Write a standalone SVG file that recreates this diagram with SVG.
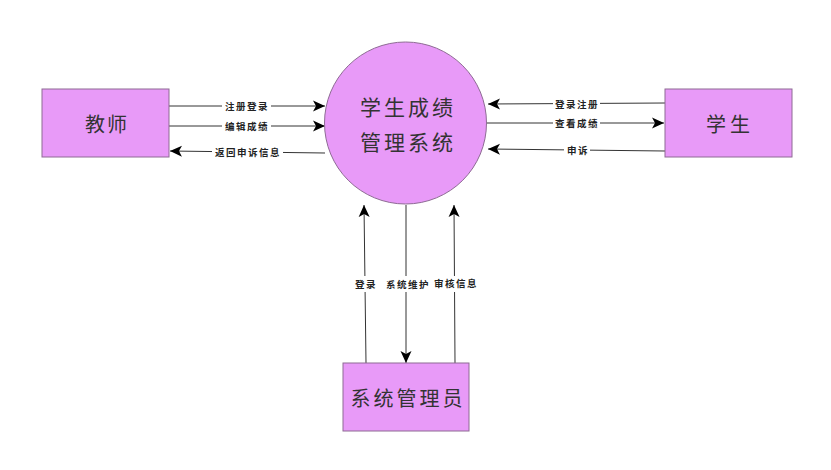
<svg xmlns="http://www.w3.org/2000/svg" width="831" height="470" viewBox="0 0 831 470">
<style>
.node{fill:#E89AF8;stroke:#8E6B94;stroke-width:1}
.ntext{font-family:"Noto Sans CJK SC","Liberation Sans",sans-serif;fill:#333;text-anchor:middle;dominant-baseline:central}
.edge{stroke:#333;stroke-width:1;fill:none;marker-end:url(#arr)}
.lbl{font-family:"Noto Sans CJK SC","Liberation Sans",sans-serif;font-size:9.5px;font-weight:bold;fill:#222;text-anchor:middle;dominant-baseline:central;letter-spacing:1.5px}
.bg{fill:#fff}
</style>
<defs>
<marker id="arr" viewBox="0 0 12 12" refX="12" refY="6" markerWidth="12" markerHeight="12" markerUnits="userSpaceOnUse" orient="auto">
<path d="M0,0.5 L12,6 L0,11.5 L3,6 Z" fill="#000"/>
</marker>
</defs>
<rect width="831" height="470" fill="#fff"/>
<g id="connectors">
<line class="edge" x1="169" y1="106" x2="325" y2="106"/>
<line class="edge" x1="169" y1="126" x2="325" y2="126"/>
<line class="edge" x1="325" y1="153" x2="170" y2="151"/>
<line class="edge" x1="665" y1="103" x2="488" y2="104"/>
<line class="edge" x1="487" y1="123" x2="664" y2="123"/>
<line class="edge" x1="665" y1="151" x2="488" y2="149"/>
<line class="edge" x1="366" y1="363" x2="364" y2="205"/>
<line class="edge" x1="406" y1="205" x2="406" y2="363"/>
<line class="edge" x1="455" y1="363" x2="454" y2="205"/>
<rect class="bg" x="222" y="99" width="49" height="14"/>
<text class="lbl" x="247" y="106">注册登录</text>
<rect class="bg" x="222" y="119" width="49" height="14"/>
<text class="lbl" x="247" y="126">编辑成绩</text>
<rect class="bg" x="212" y="145" width="71" height="14"/>
<text class="lbl" x="248" y="152">返回申诉信息</text>
<rect class="bg" x="553" y="97" width="47" height="14"/>
<text class="lbl" x="577" y="104">登录注册</text>
<rect class="bg" x="553" y="116" width="47" height="14"/>
<text class="lbl" x="577" y="123">查看成绩</text>
<rect class="bg" x="564" y="143" width="26" height="14"/>
<text class="lbl" x="578" y="150">申诉</text>
<rect class="bg" x="352" y="276" width="26" height="16"/>
<text class="lbl" x="366" y="284">登录</text>
<rect class="bg" x="383" y="276" width="48" height="16"/>
<text class="lbl" x="408" y="284">系统维护</text>
<rect class="bg" x="432" y="276" width="46" height="16"/>
<text class="lbl" x="456" y="283">审核信息</text>
</g>
<g id="system">
<circle class="node" cx="405.5" cy="123" r="81"/>
<text class="ntext" x="408" y="106" font-size="21" letter-spacing="3">学生成绩</text>
<text class="ntext" x="408" y="141" font-size="21" letter-spacing="3">管理系统</text>
</g>
<g id="teacher">
<rect class="node" x="42" y="89" width="127" height="68"/>
<text class="ntext" x="107" y="123" font-size="20" letter-spacing="2">教师</text>
</g>
<g id="student">
<rect class="node" x="665" y="89" width="127" height="68"/>
<text class="ntext" x="730" y="123" font-size="20" letter-spacing="4">学生</text>
</g>
<g id="admin">
<rect class="node" x="343" y="363" width="126" height="68"/>
<text class="ntext" x="408" y="397" font-size="20" letter-spacing="3">系统管理员</text>
</g>
</svg>
